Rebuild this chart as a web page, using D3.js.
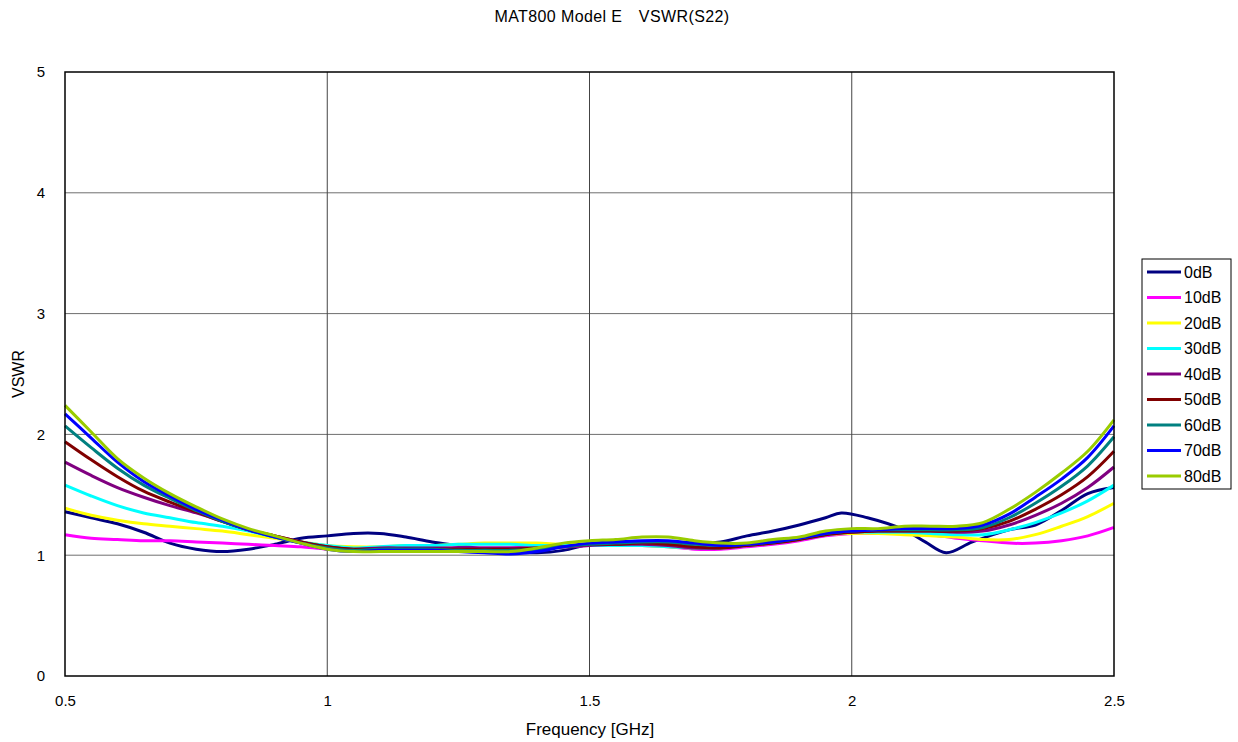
<!DOCTYPE html>
<html>
<head>
<meta charset="utf-8">
<script src="https://cdn.jsdelivr.net/npm/d3@7"></script>
<style>
  html, body { margin: 0; padding: 0; background: #fff; }
  svg { display: block; font-family: "Liberation Sans", Arial, sans-serif; }
</style>
</head>
<body>
<svg id="chart" width="1238" height="742"></svg>
<script>
// ---- data ----
const title = "MAT800 Model E\u3000VSWR(S22)";
const xTitle = "Frequency [GHz]";
const yTitle = "VSWR";
const xTicks = [0.5, 1, 1.5, 2, 2.5];
const yTicks = [0, 1, 2, 3, 4, 5];
const seriesNames = ["0dB", "10dB", "20dB", "30dB", "40dB", "50dB", "60dB", "70dB", "80dB"];
const seriesColors = ["#000080", "#FF00FF", "#FFFF00", "#00FFFF", "#800080", "#800000", "#008080", "#0000FF", "#99CC00"];

const freq = [0.5,0.55,0.6,0.65,0.7,0.75,0.8,0.85,0.9,0.95,1.0,1.05,1.1,1.15,1.2,1.25,1.3,1.35,1.4,1.45,1.5,1.55,1.6,1.65,1.7,1.75,1.8,1.85,1.9,1.95,2.0,2.05,2.1,2.15,2.2,2.25,2.3,2.35,2.4,2.45,2.5];
const freq0dB = [0.5,0.55,0.6,0.65,0.7,0.75,0.8,0.85,0.9,0.95,1.0,1.05,1.1,1.15,1.2,1.25,1.3,1.35,1.4,1.45,1.5,1.55,1.6,1.65,1.7,1.75,1.8,1.85,1.9,1.95,1.98,2.03,2.1,2.14,2.18,2.23,2.3,2.35,2.4,2.45,2.5];

const v0dB  = [1.36,1.31,1.26,1.19,1.10,1.05,1.03,1.05,1.09,1.14,1.16,1.18,1.18,1.15,1.11,1.08,1.05,1.03,1.02,1.04,1.09,1.11,1.11,1.11,1.10,1.11,1.16,1.20,1.25,1.31,1.35,1.31,1.21,1.11,1.02,1.11,1.21,1.25,1.37,1.51,1.56];
const v10dB = [1.17,1.14,1.13,1.12,1.12,1.11,1.10,1.09,1.08,1.07,1.05,1.05,1.05,1.05,1.06,1.06,1.06,1.06,1.07,1.07,1.08,1.08,1.08,1.07,1.05,1.05,1.07,1.09,1.12,1.16,1.18,1.18,1.18,1.17,1.14,1.12,1.10,1.10,1.12,1.16,1.23];
const v20dB = [1.39,1.33,1.29,1.26,1.24,1.22,1.20,1.17,1.14,1.11,1.08,1.07,1.07,1.08,1.08,1.09,1.10,1.10,1.10,1.09,1.09,1.08,1.08,1.07,1.06,1.06,1.08,1.10,1.13,1.17,1.18,1.18,1.17,1.16,1.15,1.13,1.13,1.17,1.24,1.32,1.43];
const v30dB = [1.58,1.49,1.41,1.35,1.31,1.27,1.24,1.20,1.15,1.11,1.08,1.06,1.07,1.08,1.08,1.09,1.09,1.09,1.08,1.08,1.08,1.08,1.08,1.07,1.06,1.06,1.08,1.10,1.13,1.17,1.19,1.19,1.19,1.18,1.17,1.17,1.21,1.27,1.35,1.45,1.58];
const v40dB = [1.77,1.66,1.56,1.48,1.41,1.35,1.28,1.21,1.16,1.11,1.07,1.05,1.06,1.06,1.06,1.06,1.06,1.06,1.06,1.07,1.08,1.09,1.09,1.08,1.06,1.06,1.08,1.10,1.13,1.17,1.19,1.20,1.20,1.20,1.19,1.20,1.25,1.33,1.43,1.56,1.73];
const v50dB = [1.94,1.79,1.65,1.53,1.44,1.36,1.28,1.21,1.16,1.11,1.07,1.05,1.05,1.05,1.05,1.05,1.05,1.05,1.06,1.07,1.09,1.09,1.10,1.09,1.07,1.06,1.08,1.10,1.13,1.17,1.19,1.20,1.20,1.20,1.20,1.22,1.28,1.38,1.50,1.65,1.86];
const v60dB = [2.07,1.89,1.72,1.58,1.47,1.37,1.28,1.21,1.15,1.10,1.06,1.04,1.05,1.05,1.05,1.04,1.04,1.04,1.05,1.07,1.09,1.10,1.11,1.11,1.09,1.08,1.09,1.11,1.14,1.18,1.20,1.21,1.21,1.21,1.21,1.23,1.31,1.43,1.57,1.74,1.98];
const v70dB = [2.17,1.97,1.77,1.61,1.49,1.38,1.29,1.21,1.15,1.10,1.05,1.03,1.04,1.04,1.04,1.03,1.02,1.01,1.03,1.07,1.10,1.11,1.12,1.12,1.10,1.08,1.09,1.11,1.14,1.18,1.20,1.21,1.22,1.22,1.22,1.25,1.34,1.48,1.63,1.81,2.07];
const v80dB = [2.24,2.02,1.80,1.64,1.51,1.40,1.30,1.22,1.16,1.10,1.05,1.03,1.03,1.03,1.03,1.03,1.03,1.03,1.06,1.10,1.12,1.13,1.15,1.15,1.12,1.10,1.10,1.13,1.15,1.20,1.22,1.22,1.24,1.24,1.24,1.27,1.38,1.52,1.68,1.86,2.12];

const seriesValues = [v0dB, v10dB, v20dB, v30dB, v40dB, v50dB, v60dB, v70dB, v80dB];
const seriesFreqs  = [freq0dB, freq, freq, freq, freq, freq, freq, freq, freq];

// ---- layout ----
const svg = d3.select("#chart");
const L = 65, R = 1114, T = 72, B = 676;
const x = d3.scaleLinear().domain([0.5, 2.5]).range([L, R]);
const y = d3.scaleLinear().domain([0, 5]).range([B, T]);

// gridlines
const gGrid = svg.append("g");
gGrid.selectAll("line.h").data(yTicks.filter(d => d > 0 && d < 5)).join("line")
  .attr("x1", L).attr("x2", R).attr("y1", d => y(d)).attr("y2", d => y(d))
  .attr("stroke", "#6e6e6e").attr("stroke-width", 1);
gGrid.selectAll("line.v").data(xTicks.filter(d => d > 0.5 && d < 2.5)).join("line")
  .attr("x1", d => x(d)).attr("x2", d => x(d)).attr("y1", T).attr("y2", B)
  .attr("stroke", "#444").attr("stroke-width", 1);

// lines
const line = d3.line().curve(d3.curveCatmullRom.alpha(0.5));
const gLines = svg.append("g");
seriesValues.forEach((vals, i) => {
  const pts = vals.map((v, j) => [x(seriesFreqs[i][j]), y(v)]);
  gLines.append("path")
    .attr("d", line(pts))
    .attr("fill", "none")
    .attr("stroke", seriesColors[i])
    .attr("stroke-width", 3)
    .attr("stroke-linejoin", "round");
});

// plot border
svg.append("rect").attr("x", L).attr("y", T).attr("width", R - L).attr("height", B - T)
  .attr("fill", "none").attr("stroke", "#000").attr("stroke-width", 1.5);

// axes
const xAxis = d3.axisBottom(x).tickValues(xTicks).tickSize(0).tickPadding(19).tickFormat(d3.format("~g"));
const gx = svg.append("g").attr("transform", `translate(0,${B})`).call(xAxis);
gx.select(".domain").remove();
gx.selectAll("text").attr("font-size", 15).attr("fill", "#000").attr("font-family", "Liberation Sans, Arial, sans-serif");

const yAxis = d3.axisLeft(y).tickValues(yTicks).tickSize(0).tickPadding(20).tickFormat(d3.format("d"));
const gy = svg.append("g").attr("transform", `translate(${L},0)`).call(yAxis);
gy.select(".domain").remove();
gy.selectAll("text").attr("font-size", 15).attr("fill", "#000").attr("font-family", "Liberation Sans, Arial, sans-serif");

// titles
svg.append("text").attr("x", 612).attr("y", 22).attr("text-anchor", "middle")
  .attr("font-size", 16).attr("letter-spacing", 0.4).text(title);
svg.append("text").attr("x", 590).attr("y", 735).attr("text-anchor", "middle")
  .attr("font-size", 17).text(xTitle);
svg.append("text").attr("transform", "translate(24,374) rotate(-90)").attr("text-anchor", "middle")
  .attr("font-size", 16).text(yTitle);

// legend
const lg = svg.append("g");
lg.append("rect").attr("x", 1142).attr("y", 259).attr("width", 89).attr("height", 230)
  .attr("fill", "#fff").attr("stroke", "#000").attr("stroke-width", 1);
const legendY = d3.scalePoint().domain(seriesNames).range([272, 476]);
seriesNames.forEach((n, i) => {
  const yy = legendY(n);
  lg.append("line").attr("x1", 1147).attr("x2", 1181).attr("y1", yy).attr("y2", yy)
    .attr("stroke", seriesColors[i]).attr("stroke-width", 3);
  lg.append("text").attr("x", 1184).attr("y", yy + 5.5).attr("font-size", 16).text(n);
});
</script>
</body>
</html>
